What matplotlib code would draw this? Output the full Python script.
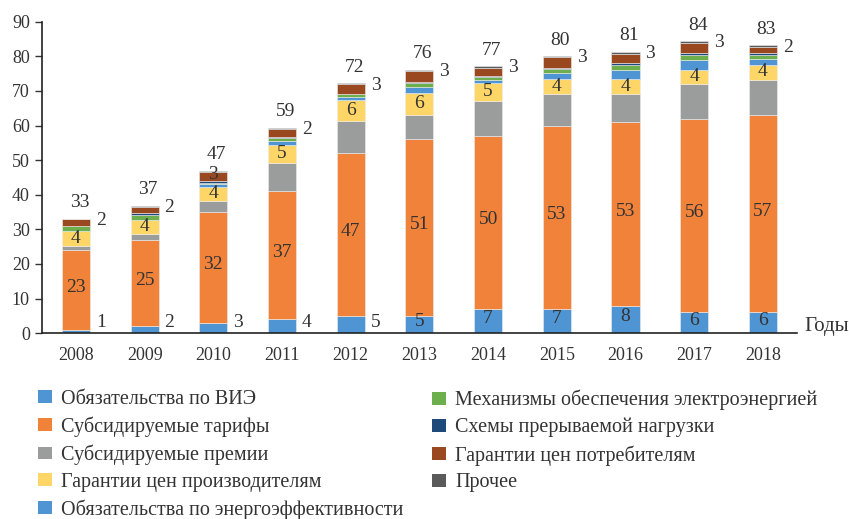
import numpy as np
import matplotlib
matplotlib.use('Agg')
import matplotlib.pyplot as plt
from matplotlib.patches import Patch

plt.rcParams['font.family'] = ['Liberation Serif', 'DejaVu Serif']

# данные (оценка по рисунку)
years = ['2008', '2009', '2010', '2011', '2012', '2013', '2014', '2015', '2016', '2017', '2018']
vie = [1, 2, 3, 4, 5, 5, 7, 7, 8, 6, 6]
tariffs = [23, 25, 32, 37, 47, 51, 50, 53, 53, 56, 57]
premiums = [1.3, 1.6, 3.3, 8.3, 9.3, 7.0, 10.1, 9.2, 8.2, 9.9, 10.3]
producers = [4.1, 4.2, 4.0, 5.1, 6.0, 6.3, 5.2, 4.2, 4.2, 4.1, 4.2]
efficiency = [0, 0, 0.7, 1.2, 0.9, 1.8, 0.8, 1.8, 2.8, 3.0, 1.8]
mechanisms = [1.5, 1.5, 0.5, 0.7, 0.8, 1.1, 0.9, 1.1, 1.2, 1.5, 1.2]
interrupt = [0.2, 0.4, 0.4, 0.5, 0.2, 0.5, 0.3, 0.4, 0.6, 0.5, 0.5]
consumers = [1.8, 1.8, 2.8, 2.2, 2.7, 3.0, 2.4, 3.0, 2.8, 2.9, 1.8]
other = [0.2, 0.3, 0.3, 0.4, 0.3, 0.4, 0.5, 0.4, 0.5, 0.5, 0.4]

# подписи на столбцах
total_labels = [33, 37, 47, 59, 72, 76, 77, 80, 81, 84, 83]
vie_labels = [1, 2, 3, 4, 5, 5, 7, 7, 8, 6, 6]
tariff_labels = [23, 25, 32, 37, 47, 51, 50, 53, 53, 56, 57]
producer_labels = [4, 4, 4, 5, 6, 6, 5, 4, 4, 4, 4]
consumer_labels = [2, 2, 3, 2, 3, 3, 3, 3, 3, 3, 2]

names = ['Обязательства по ВИЭ', 'Субсидируемые тарифы', 'Субсидируемые премии',
         'Гарантии цен производителям', 'Обязательства по энергоэффективности',
         'Механизмы обеспечения электроэнергией', 'Схемы прерываемой нагрузки',
         'Гарантии цен потребителям', 'Прочее']
colors = ['#4f95d3', '#f0823a', '#9b9d9d', '#fed567', '#4f95d3',
          '#6daf4c', '#1d4a7a', '#9a4820', '#5a5a5a']
series = [vie, tariffs, premiums, producers, efficiency, mechanisms, interrupt, consumers, other]

txt_color = '#333333'

fig = plt.figure(figsize=(8.49, 5.19), dpi=100)
ax = fig.add_axes([0.049, 0.358, 0.89, 0.6])

x = np.arange(len(years))
width = 0.41
bottom = np.zeros(len(years))
for vals, col in zip(series, colors):
    ax.bar(x, vals, width, bottom=bottom, color=col, edgecolor='#eeeeee', linewidth=0.4)
    bottom += np.array(vals)

fs = 14
for i in range(len(years)):
    # ВИЭ
    if i <= 4:
        ax.text(x[i] + 0.36, 3.0, str(vie_labels[i]), ha='center', va='center', fontsize=fs, color=txt_color)
    else:
        ax.text(x[i], vie[i] / 2 + 0.8, str(vie_labels[i]), ha='center', va='center', fontsize=fs, color=txt_color)
    # тарифы
    ax.text(x[i], vie[i] + tariffs[i] / 2 + 0.8, str(tariff_labels[i]), ha='center', va='center', fontsize=fs, color=txt_color)
    # производители
    b = vie[i] + tariffs[i] + premiums[i]
    ax.text(x[i], b + producers[i] / 2 + 0.1, str(producer_labels[i]), ha='center', va='center', fontsize=fs, color=txt_color)
    # потребители
    if i == 2:
        ax.text(x[i], bottom[i] - 1.0, str(consumer_labels[i]), ha='center', va='center', fontsize=fs, color=txt_color)
    else:
        ax.text(x[i] + 0.36, bottom[i] - 0.5, str(consumer_labels[i]), ha='center', va='center', fontsize=fs, color=txt_color)
    # итог
    ax.text(x[i] + 0.05, bottom[i] + 4.6, str(total_labels[i]), ha='center', va='center', fontsize=fs, color=txt_color)

ax.set_xlim(-0.5, 10.5)
ax.set_ylim(0, 90)
ax.set_yticks(range(0, 91, 10))
ax.set_xticks(x)
ax.set_xticklabels(years)
ax.tick_params(axis='y', length=5, width=1, colors=txt_color, labelsize=13, direction='out')
ax.tick_params(axis='x', length=0, colors=txt_color, labelsize=13, pad=10)
for s in ['top', 'right']:
    ax.spines[s].set_visible(False)
ax.spines['left'].set_color('#222222')
ax.spines['bottom'].set_color('#222222')
ax.spines['left'].set_linewidth(1.2)
ax.spines['bottom'].set_linewidth(1.2)

fig.text(0.948, 0.37, 'Годы', fontsize=15, color=txt_color, ha='left', va='center')

# легенда в две колонки
handles = [Patch(facecolor=c, edgecolor='none') for c in colors]
leg_kw = dict(loc='upper left', frameon=False, fontsize=14.5, handlelength=0.7,
              handleheight=0.6, handletextpad=0.45, labelspacing=0.38,
              borderpad=0, borderaxespad=0, labelcolor=txt_color)
fig.legend(handles[:5], names[:5], bbox_to_anchor=(0.0448, 0.249), **leg_kw)
fig.legend(handles[5:], names[5:], bbox_to_anchor=(0.509, 0.249), **leg_kw)

fig.savefig('out.png', dpi=100)
